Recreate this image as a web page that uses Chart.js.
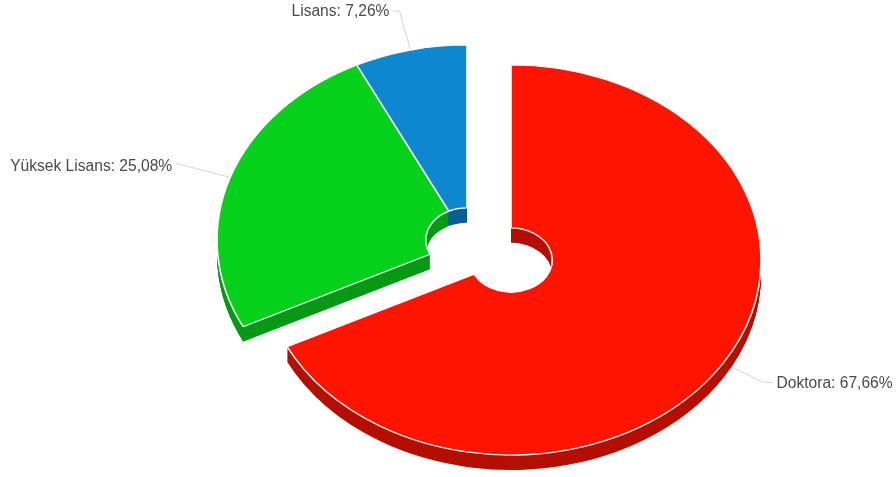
<!DOCTYPE html>
<html>
<head>
<meta charset="utf-8">
<title>Doktora / Yüksek Lisans / Lisans</title>
<script src="https://cdn.jsdelivr.net/npm/chart.js@4/dist/chart.umd.min.js"></script>
<style>
    html, body { margin: 0; background: #fff; }
    canvas { display: block; }
</style>
</head>
<body>
<canvas id="pie" width="896" height="477"></canvas>
<script>
const categories = ["Doktora", "Yüksek Lisans", "Lisans"];
const shares = [67.66, 25.08, 7.26];
const faceColors = ["#ff1400", "#06d11a", "#0d87cf"];
const sideColors = ["#b50f00", "#059a14", "#0a5f96"];

// tilted look: the round doughnut gets squashed into an ellipse and extruded
const pieCenter = [467, 240];
const radiusX = 250;
const radiusY = 195;
const depth = 15;
const slicePull = [[44, 20], [0, 0], [0, 0]];

// leader line bend and end, relative to the slice edge, and where the text sits from the end
const leaders = [
    { bend: [38, 19], end: [49, 20], align: "left", text: [4, 1] },
    { bend: [-54, -14], end: [-54, -14], align: "right", text: [-4, 3] },
    { bend: [-11, -39], end: [-18, -39], align: "right", text: [-3, 1] }
];

const formatShare = (v) => v.toFixed(2).replace(".", ",") + "%";

const tiltedPie = {
    id: "tiltedPie",
    beforeDatasetsDraw(chart) {
        const ctx = chart.ctx;
        const arcs = chart.getDatasetMeta(0).data;

        const drawArc = (arc, index, dy, overrides) => {
            const face = arc.options;
            const scaleX = radiusX / arc.outerRadius;
            const scaleY = radiusY / arc.outerRadius;
            ctx.save();
            ctx.translate(pieCenter[0] + slicePull[index][0], pieCenter[1] + slicePull[index][1] + dy);
            ctx.scale(scaleX, scaleY);
            ctx.translate(-arc.x, -arc.y);
            arc.options = { ...face, ...overrides };
            arc.draw(ctx);
            arc.options = face;
            ctx.restore();
        };

        // leader lines and labels go under the slices
        arcs.forEach((arc, index) => {
            const mid = (arc.startAngle + arc.endAngle) / 2;
            const x = pieCenter[0] + slicePull[index][0] + Math.cos(mid) * radiusX;
            const y = pieCenter[1] + slicePull[index][1] + Math.sin(mid) * radiusY;
            const leader = leaders[index];
            const endX = x + leader.end[0];
            const endY = y + leader.end[1];
            ctx.save();
            ctx.strokeStyle = "#d4d4d4";
            ctx.lineWidth = 1;
            ctx.beginPath();
            ctx.moveTo(x, y);
            ctx.lineTo(x + leader.bend[0], y + leader.bend[1]);
            ctx.lineTo(endX, endY);
            ctx.stroke();
            ctx.fillStyle = "#4a4a4a";
            ctx.font = "15.6px 'Liberation Sans', Arial, sans-serif";
            ctx.textAlign = leader.align;
            ctx.textBaseline = "middle";
            ctx.fillText(categories[index] + ": " + formatShare(shares[index]), endX + leader.text[0], endY + leader.text[1]);
            ctx.restore();
        });

        for (let dy = depth; dy > 0; dy--) {
            arcs.forEach((arc, index) => {
                drawArc(arc, index, dy, { backgroundColor: sideColors[index], borderWidth: 0 });
            });
        }
        arcs.forEach((arc, index) => drawArc(arc, index, 0, {}));
        return false;
    }
};

new Chart(document.getElementById("pie"), {
    type: "doughnut",
    data: {
        labels: categories,
        datasets: [{
            data: shares,
            backgroundColor: faceColors,
            borderColor: "#fff",
            borderWidth: 1.5
        }]
    },
    options: {
        responsive: false,
        animation: false,
        cutout: "16.5%",
        plugins: {
            legend: { display: false },
            tooltip: { enabled: false }
        }
    },
    plugins: [tiltedPie]
});
</script>
</body>
</html>
